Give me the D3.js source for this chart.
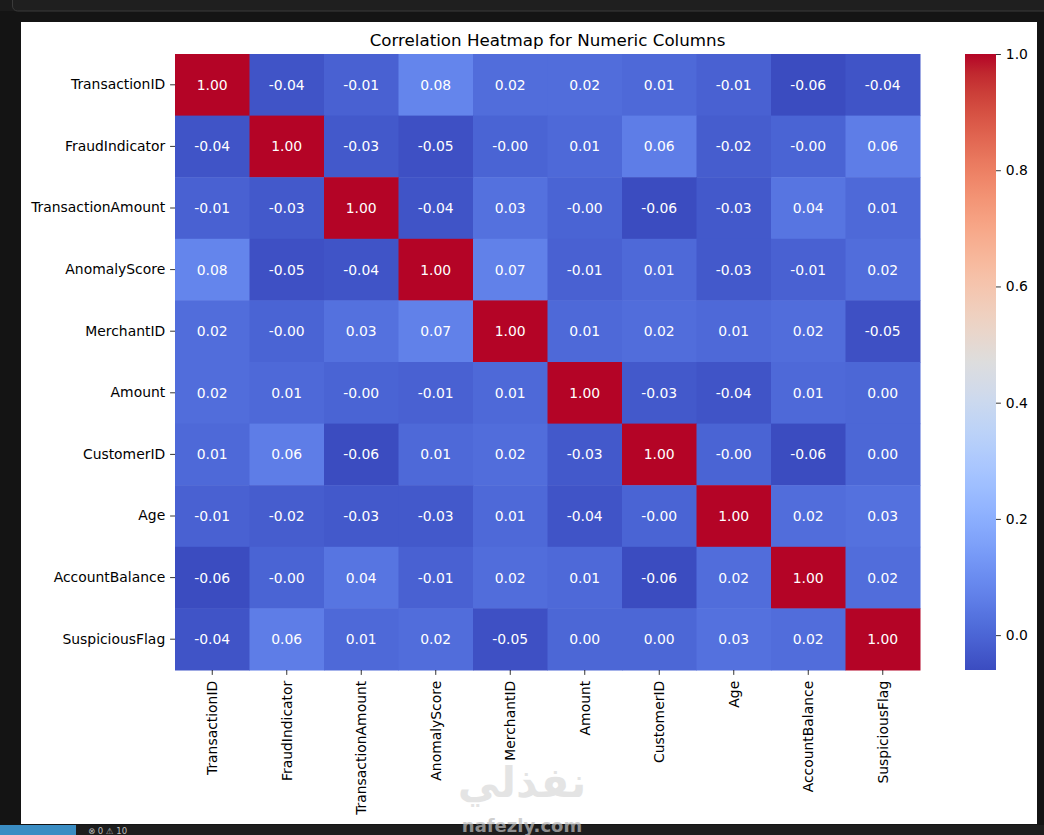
<!DOCTYPE html>
<html>
<head>
<meta charset="utf-8">
<script src="https://cdn.jsdelivr.net/npm/d3@7/dist/d3.min.js"></script>
<style>
  html, body { margin: 0; padding: 0; background: #161616; }
  svg { display: block; }
  text { font-family: "DejaVu Sans", sans-serif; }
</style>
</head>
<body>
<svg id="chart" width="1044" height="835"></svg>
<script>
// ---------------- DATA ----------------
const labels = ["TransactionID", "FraudIndicator", "TransactionAmount", "AnomalyScore",
  "MerchantID", "Amount", "CustomerID", "Age", "AccountBalance", "SuspiciousFlag"];

const corrTransactionID     = [ 1.00, -0.04, -0.01,  0.08,  0.02,  0.02,  0.01, -0.01, -0.06, -0.04];
const corrFraudIndicator    = [-0.04,  1.00, -0.03, -0.05, -0.004, 0.01,  0.06, -0.02, -0.004, 0.06];
const corrTransactionAmount = [-0.01, -0.03,  1.00, -0.04,  0.03, -0.004,-0.06, -0.03,  0.04,  0.01];
const corrAnomalyScore      = [ 0.08, -0.05, -0.04,  1.00,  0.07, -0.01,  0.01, -0.03, -0.01,  0.02];
const corrMerchantID        = [ 0.02, -0.004, 0.03,  0.07,  1.00,  0.01,  0.02,  0.01,  0.02, -0.05];
const corrAmount            = [ 0.02,  0.01, -0.004,-0.01,  0.01,  1.00, -0.03, -0.04,  0.01,  0.004];
const corrCustomerID        = [ 0.01,  0.06, -0.06,  0.01,  0.02, -0.03,  1.00, -0.004,-0.06,  0.004];
const corrAge               = [-0.01, -0.02, -0.03, -0.03,  0.01, -0.04, -0.004, 1.00,  0.02,  0.03];
const corrAccountBalance    = [-0.06, -0.004, 0.04, -0.01,  0.02,  0.01, -0.06,  0.02,  1.00,  0.02];
const corrSuspiciousFlag    = [-0.04,  0.06,  0.01,  0.02, -0.05,  0.004, 0.004, 0.03,  0.02,  1.00];

const corrRows = [corrTransactionID, corrFraudIndicator, corrTransactionAmount, corrAnomalyScore,
  corrMerchantID, corrAmount, corrCustomerID, corrAge, corrAccountBalance, corrSuspiciousFlag];

const colorbarTicks = [0.0, 0.2, 0.4, 0.6, 0.8, 1.0];
const titleText = "Correlation Heatmap for Numeric Columns";

// coolwarm colormap control colours (Moreland)
const coolwarmStops = [
  [59,76,192],[68,90,204],[77,104,215],[87,117,225],[98,130,234],[108,142,241],
  [119,154,247],[130,165,251],[141,176,254],[152,185,255],[163,194,255],[174,201,253],
  [184,208,249],[194,213,244],[204,217,238],[213,219,230],[221,221,221],[229,216,209],
  [236,211,197],[241,204,185],[245,196,173],[247,187,160],[247,177,148],[247,166,135],
  [244,154,123],[241,141,111],[236,127,99],[229,112,88],[222,96,77],[213,80,66],
  [203,62,56],[192,40,47],[180,4,38]
];

// ---------------- LAYOUT ----------------
const svg = d3.select("#chart");
const W = 1044, H = 835;
const plot = { left: 175, right: 920, top: 54, bottom: 670 };
const cbar = { left: 965, right: 996 };

// background chrome (dark editor frame)
svg.append("rect").attr("x", 0).attr("y", 0).attr("width", W).attr("height", H).attr("fill", "#141414");
svg.append("rect").attr("x", 0).attr("y", 0).attr("width", W).attr("height", 11).attr("fill", "#1b1b1b");
svg.append("rect").attr("x", 12.5).attr("y", -12).attr("width", W + 20).attr("height", 23)
  .attr("rx", 5).attr("fill", "#1f1f1f").attr("stroke", "#3a3a3a").attr("stroke-width", 1);
svg.append("rect").attr("x", 0).attr("y", 825).attr("width", W).attr("height", 10).attr("fill", "#1d1d1d");
svg.append("rect").attr("x", 0).attr("y", 825).attr("width", 76).attr("height", 10).attr("fill", "#3a8dc3");
svg.append("text").attr("x", 88).attr("y", 833.5).attr("fill", "#bdbdbd").attr("font-size", 8.5)
  .text("\u2297 0 \u26A0 10");

// white figure
svg.append("rect").attr("x", 21).attr("y", 22).attr("width", 1016).attr("height", 802).attr("fill", "#ffffff");

// ---------------- SCALES ----------------
const allVals = corrRows.flat();
const vmin = d3.min(allVals), vmax = d3.max(allVals);

const cmap = d3.scaleLinear()
  .domain(coolwarmStops.map((_, i) => i / (coolwarmStops.length - 1)))
  .range(coolwarmStops.map(c => d3.rgb(c[0], c[1], c[2])))
  .interpolate(d3.interpolateRgb)
  .clamp(true);
const color = v => cmap((v - vmin) / (vmax - vmin));

const x = d3.scaleBand().domain(labels).range([plot.left, plot.right]).padding(0);
const y = d3.scaleBand().domain(labels).range([plot.top, plot.bottom]).padding(0);

// ---------------- CELLS ----------------
const cells = [];
corrRows.forEach((row, i) => row.forEach((v, j) => cells.push({ r: labels[i], c: labels[j], v })));

const fmt = v => (v < 0 ? "-" : "") + Math.abs(v).toFixed(2);

svg.append("g").selectAll("rect").data(cells).join("rect")
  .attr("x", d => x(d.c)).attr("y", d => y(d.r))
  .attr("width", x.bandwidth() + 0.5).attr("height", y.bandwidth() + 0.5)
  .attr("fill", d => color(d.v));

svg.append("g").selectAll("text").data(cells).join("text")
  .attr("x", d => x(d.c) + x.bandwidth() / 2)
  .attr("y", d => y(d.r) + y.bandwidth() / 2)
  .attr("text-anchor", "middle").attr("dy", "0.36em")
  .attr("fill", "#ffffff").attr("font-size", 13.9)
  .text(d => fmt(d.v));

// ---------------- AXES ----------------
const yAxis = svg.append("g").attr("transform", `translate(${plot.left},0)`)
  .call(d3.axisLeft(y).tickSize(4.9).tickPadding(4.9));
yAxis.select(".domain").remove();
yAxis.selectAll("line").attr("stroke", "#000").attr("stroke-width", 0.8);
yAxis.selectAll("text").attr("font-size", 13.9).attr("fill", "#000")
  .attr("font-family", "DejaVu Sans, sans-serif");

const xAxis = svg.append("g").attr("transform", `translate(0,${plot.bottom})`)
  .call(d3.axisBottom(x).tickSize(4.9).tickPadding(4.9));
xAxis.select(".domain").remove();
xAxis.selectAll("line").attr("stroke", "#000").attr("stroke-width", 0.8);
xAxis.selectAll("text").attr("font-size", 13.9).attr("fill", "#000")
  .attr("font-family", "DejaVu Sans, sans-serif")
  .attr("transform", "rotate(-90)")
  .attr("x", -10.8).attr("y", 0).attr("dy", "0.35em")
  .attr("text-anchor", "end");

// ---------------- TITLE ----------------
svg.append("text")
  .attr("x", (plot.left + plot.right) / 2).attr("y", 46)
  .attr("text-anchor", "middle").attr("font-size", 16.7).attr("fill", "#000")
  .text(titleText);

// ---------------- COLORBAR ----------------
const cy = d3.scaleLinear().domain([vmin, vmax]).range([plot.bottom, plot.top]);
const defs = svg.append("defs");
const grad = defs.append("linearGradient").attr("id", "cbgrad")
  .attr("x1", 0).attr("y1", 1).attr("x2", 0).attr("y2", 0);
d3.range(0, 1.0001, 1 / 64).forEach(t => {
  grad.append("stop").attr("offset", t).attr("stop-color", cmap(t));
});
svg.append("rect")
  .attr("x", cbar.left).attr("y", cy(vmax))
  .attr("width", cbar.right - cbar.left).attr("height", cy(vmin) - cy(vmax))
  .attr("fill", "url(#cbgrad)");

const cAxis = svg.append("g").attr("transform", `translate(${cbar.right},0)`)
  .call(d3.axisRight(cy).tickValues(colorbarTicks).tickFormat(d3.format(".1f"))
    .tickSize(4.9).tickPadding(4.9));
cAxis.select(".domain").remove();
cAxis.selectAll("line").attr("stroke", "#000").attr("stroke-width", 0.8);
cAxis.selectAll("text").attr("font-size", 13.9).attr("fill", "#000")
  .attr("font-family", "DejaVu Sans, sans-serif");

// ---------------- WATERMARK ----------------
svg.append("text").attr("x", 522).attr("y", 797).attr("text-anchor", "middle")
  .attr("font-size", 42).attr("font-weight", "bold").attr("fill", "#000").attr("opacity", 0.1)
  .attr("font-family", "DejaVu Sans, sans-serif")
  .text("نفذلي");
svg.append("text").attr("x", 522).attr("y", 831.5).attr("text-anchor", "middle")
  .attr("font-size", 18).attr("font-weight", "bold").attr("fill", "#bdbdbd").attr("opacity", 0.7)
  .text("nafezly.com");
</script>
</body>
</html>
